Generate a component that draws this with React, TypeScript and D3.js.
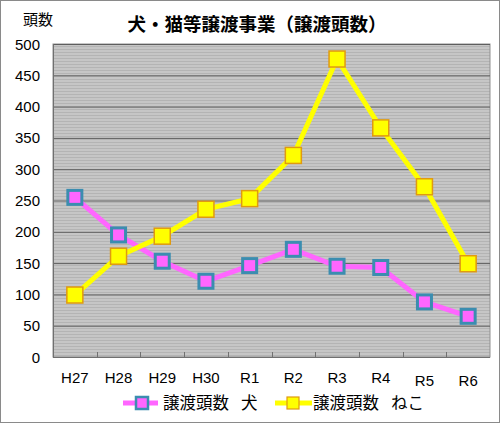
import { useEffect, useRef } from "react";
import * as d3 from "d3";

const years = ["H27", "H28", "H29", "H30", "R1", "R2", "R3", "R4", "R5", "R6"];
const dogs = [255, 195, 153, 121, 146, 172, 145, 143, 88, 65];
const cats = [99, 161, 193, 236, 253, 322, 476, 366, 272, 149];
const yTicks = [0, 50, 100, 150, 200, 250, 300, 350, 400, 450, 500];

const W = 500;
const H = 423;
const FONT = "'Liberation Sans', Arial, sans-serif";
const JP = "'Noto Sans CJK JP', sans-serif";

export default function App() {
  const ref = useRef<SVGSVGElement | null>(null);

  useEffect(() => {
    if (!ref.current) return;
    const svg = d3.select(ref.current);
    svg.selectAll("*").remove();

    const m = { t: 44, r: 10, b: 66, l: 53 };
    const w = W - m.l - m.r;
    const h = H - m.t - m.b;

    const x = d3.scaleBand().domain(years).range([0, w]);
    const y = d3.scaleLinear().domain([0, 500]).range([h, 0]);
    const cx = (d: string) => (x(d) as number) + x.bandwidth() / 2;

    // outer frame
    svg.append("rect").attr("x", 0.5).attr("y", 0.5).attr("width", W - 1).attr("height", H - 1)
      .attr("fill", "#fff").attr("stroke", "#8a8a8a");

    // striped plot background
    const defs = svg.append("defs");
    const pat = defs.append("pattern").attr("id", "stripes").attr("patternUnits", "userSpaceOnUse")
      .attr("width", 8).attr("height", 3);
    pat.append("rect").attr("width", 8).attr("height", 3).attr("fill", "#c6c6c6");
    pat.append("rect").attr("y", 2).attr("width", 8).attr("height", 1).attr("fill", "#b4b4b4");

    svg.append("text").attr("x", 38).attr("y", 25).attr("text-anchor", "middle")
      .attr("font-family", JP).attr("font-size", 15).attr("fill", "#000").text("頭数");
    svg.append("text").attr("x", 257).attr("y", 31).attr("text-anchor", "middle")
      .attr("font-family", JP).attr("font-size", 18.5).attr("font-weight", "bold").attr("fill", "#000")
      .text("犬・猫等譲渡事業（譲渡頭数）");

    const g = svg.append("g").attr("transform", `translate(${m.l},${m.t})`);
    g.append("rect").attr("width", w).attr("height", h).attr("fill", "url(#stripes)")
      .attr("stroke", "#909090");

    // gridlines
    g.selectAll("line.grid").data(yTicks.filter((t) => t > 0)).join("line")
      .attr("x1", 0).attr("x2", w).attr("y1", (d) => y(d) + 0.5).attr("y2", (d) => y(d) + 0.5)
      .attr("stroke", "#5e5e5e").attr("stroke-width", 1);

    // axes
    g.append("line").attr("x1", 0.5).attr("x2", 0.5).attr("y1", 0).attr("y2", h).attr("stroke", "#707070");
    g.append("line").attr("x1", 0).attr("x2", w).attr("y1", h + 0.5).attr("y2", h + 0.5).attr("stroke", "#707070");
    g.selectAll("line.xt").data(years.slice(1)).join("line")
      .attr("x1", (d) => Math.round(x(d) as number) + 0.5).attr("x2", (d) => Math.round(x(d) as number) + 0.5)
      .attr("y1", h - 5).attr("y2", h).attr("stroke", "#707070");

    g.selectAll("text.yl").data(yTicks).join("text")
      .attr("x", -13).attr("y", (d) => y(d) + 5.5).attr("text-anchor", "end")
      .attr("font-family", FONT).attr("font-size", 15).attr("fill", "#000").text((d) => d);
    g.selectAll("text.xl").data(years).join("text")
      .attr("x", (d) => cx(d)).attr("y", (d, i) => h + 26 + (i >= 8 ? 3 : 0)).attr("text-anchor", "middle")
      .attr("font-family", FONT).attr("font-size", 15).attr("fill", "#000").text((d) => d);

    const line = d3.line<number>().x((_, i) => cx(years[i])).y((d) => y(d));

    g.append("path").datum(dogs).attr("fill", "none").attr("stroke", "#ff66ff").attr("stroke-width", 5).attr("d", line);
    g.append("path").datum(cats).attr("fill", "none").attr("stroke", "#ffff00").attr("stroke-width", 5).attr("d", line);

    g.selectAll("rect.dog").data(dogs).join("rect")
      .attr("x", (_, i) => cx(years[i]) - 7).attr("y", (d) => y(d) - 7)
      .attr("width", 14).attr("height", 14).attr("fill", "#ff66ff").attr("stroke", "#3b8db0").attr("stroke-width", 3);
    g.selectAll("rect.cat").data(cats).join("rect")
      .attr("x", (_, i) => cx(years[i]) - 8).attr("y", (d) => y(d) - 8)
      .attr("width", 16).attr("height", 16).attr("fill", "#ffff00").attr("stroke", "#e09a10").attr("stroke-width", 1.5);

    // legend
    const lg = svg.append("g").attr("transform", "translate(0,403)")
      .attr("font-family", JP).attr("font-size", 16.5).attr("fill", "#000");
    lg.append("line").attr("x1", 123).attr("x2", 158).attr("y1", 0).attr("y2", 0).attr("stroke", "#ff66ff").attr("stroke-width", 5);
    lg.append("rect").attr("x", 136).attr("y", -6).attr("width", 12).attr("height", 12)
      .attr("fill", "#ff66ff").attr("stroke", "#3b8db0").attr("stroke-width", 2.5);
    lg.append("text").attr("x", 163).attr("y", 6).text("譲渡頭数");
    lg.append("text").attr("x", 241).attr("y", 6).text("犬");
    lg.append("line").attr("x1", 275).attr("x2", 312).attr("y1", 0).attr("y2", 0).attr("stroke", "#ffff00").attr("stroke-width", 5);
    lg.append("rect").attr("x", 287).attr("y", -6).attr("width", 12).attr("height", 12)
      .attr("fill", "#ffff00").attr("stroke", "#e09a10").attr("stroke-width", 1.2);
    lg.append("text").attr("x", 313).attr("y", 6).text("譲渡頭数");
    lg.append("text").attr("x", 391).attr("y", 6).text("ねこ");
  }, []);

  return (
    <div style={{ position: "absolute", left: 0, top: 0 }}>
      <svg ref={ref} width={W} height={H} style={{ display: "block" }} />
    </div>
  );
}
